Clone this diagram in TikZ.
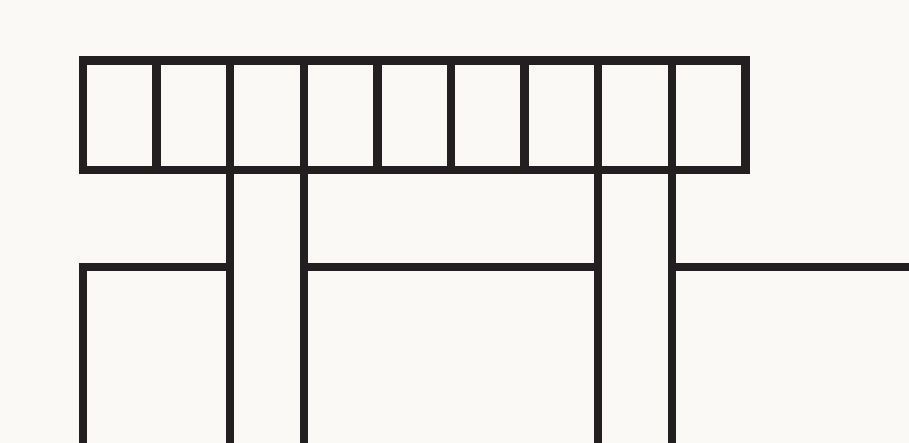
\documentclass[tikz,border=0pt]{standalone}
\usepackage{xcolor}
\usepackage{tikz}
\usetikzlibrary{calc, positioning}
\definecolor{Ink}{HTML}{231F20}
\definecolor{Paper}{HTML}{FAF9F5}

\begin{document}
\begin{tikzpicture}[x=1pt, y=-1pt,
        cell/.style={draw=Ink, line width=8.5pt, minimum width=73.6pt,
                    minimum height=109.7pt, inner sep=0pt, outer sep=0pt,
                    anchor=north west},
        bar/.style={draw=Ink, line width=8.5pt, line join=miter}]

        % Canvas
        \fill[Paper] (0,0) rectangle (909,443);
        \useasboundingbox (0,0) rectangle (909,443);

        % Row of cells
        \foreach \i in {1,...,9}
          \node[cell] (c\i) at ({83+73.6*(\i-1)}, 60.3) {};

        % Reference levels
        \coordinate (floor) at (83,267);
        \coordinate (bottom) at (83,443);
        \coordinate (rend) at (909,267);

        % Strips
        \draw[bar] (c3.south west) -- (c3.south west |- bottom);
        \draw[bar] (c3.south east) -- (c3.south east |- bottom);
        \draw[bar] (c8.south west) -- (c8.south west |- bottom);
        \draw[bar] (c8.south east) -- (c8.south east |- bottom);

        % Floor line
        \draw[bar] (bottom) -- (floor) -- (c3.south west |- floor);
        \draw[bar] (c3.south east |- floor) -- (c8.south west |- floor);
        \draw[bar] (c8.south east |- floor) -- (rend);
      \end{tikzpicture}
\end{document}
